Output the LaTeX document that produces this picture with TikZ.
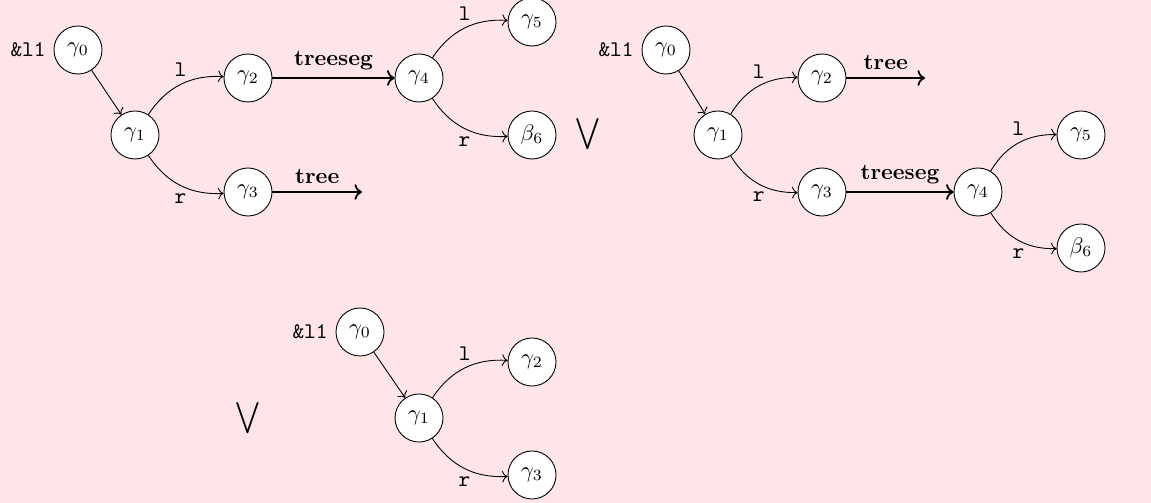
\documentclass[tikz,border=0pt]{standalone}
\usepackage{xcolor}
\usepackage{tikz}
\usetikzlibrary{arrows.meta,positioning}
\definecolor{fondrose}{HTML}{FDE5E8}

\begin{document}
\begin{tikzpicture}[
  x=0.01575cm,y=-0.01575cm,
  cell/.style={circle,draw=black,fill=white,minimum size=0.756cm,inner sep=0pt},
  ptr/.style={->},
  seg/.style={->,thick},
  lbl/.style={font=\ttfamily}]
  \fill[fondrose] (0,0) rectangle (1151,503);
  \useasboundingbox (0,0) rectangle (1151,503);
  % premier cas
  \node[cell] (a0) at (78,50) {$\gamma_0$};
  \node[lbl,left=0pt of a0] (aroot) {\&l1};
  \node[cell] (a1) at (135,135) {$\gamma_1$};
  \node[cell] (a2) at (248,78) {$\gamma_2$};
  \node[cell] (a3) at (248,192) {$\gamma_3$};
  \node[cell] (a4) at (419,78) {$\gamma_4$};
  \node[cell] (a5) at (532,22) {$\gamma_5$};
  \node[cell] (a6) at (532,135) {$\beta_6$};
  \coordinate (aend) at (362,192);
  \draw[ptr] (a0) -- (a1);
  \draw[ptr] (a1) to[bend left] node[lbl,above] {l} (a2);
  \draw[ptr] (a1) to[bend right] node[lbl,below] {r} (a3);
  \draw[seg] (a2) -- node[above] {\textbf{treeseg}} (a4);
  \draw[seg] (a3) -- node[above] {\textbf{tree}} (aend);
  \draw[ptr] (a4) to[bend left] node[lbl,above] {l} (a5);
  \draw[ptr] (a4) to[bend right] node[lbl,below] {r} (a6);
  \node (or1) at (588,134) {$\displaystyle\bigvee$};
  % second cas
  \node[cell] (b0) at (666,50) {$\gamma_0$};
  \node[lbl,left=0pt of b0] (broot) {\&l1};
  \node[cell] (b1) at (718,135) {$\gamma_1$};
  \node[cell] (b2) at (822,78) {$\gamma_2$};
  \node[cell] (b3) at (822,192) {$\gamma_3$};
  \node[cell] (b4) at (978,192) {$\gamma_4$};
  \node[cell] (b5) at (1081,135) {$\gamma_5$};
  \node[cell] (b6) at (1081,248) {$\beta_6$};
  \coordinate (bend) at (925,78);
  \draw[ptr] (b0) -- (b1);
  \draw[ptr] (b1) to[bend left] node[lbl,above] {l} (b2);
  \draw[ptr] (b1) to[bend right] node[lbl,below] {r} (b3);
  \draw[seg] (b2) -- node[above] {\textbf{tree}} (bend);
  \draw[seg] (b3) -- node[above] {\textbf{treeseg}} (b4);
  \draw[ptr] (b4) to[bend left] node[lbl,above] {l} (b5);
  \draw[ptr] (b4) to[bend right] node[lbl,below] {r} (b6);
  % troisieme cas
  \node (or2) at (248,418) {$\displaystyle\bigvee$};
  \node[cell] (c0) at (360,332) {$\gamma_0$};
  \node[lbl,left=0pt of c0] (croot) {\&l1};
  \node[cell] (c1) at (419,418) {$\gamma_1$};
  \node[cell] (c2) at (532,362) {$\gamma_2$};
  \node[cell] (c3) at (532,475) {$\gamma_3$};
  \draw[ptr] (c0) -- (c1);
  \draw[ptr] (c1) to[bend left] node[lbl,above] {l} (c2);
  \draw[ptr] (c1) to[bend right] node[lbl,below] {r} (c3);
\end{tikzpicture}
\end{document}
